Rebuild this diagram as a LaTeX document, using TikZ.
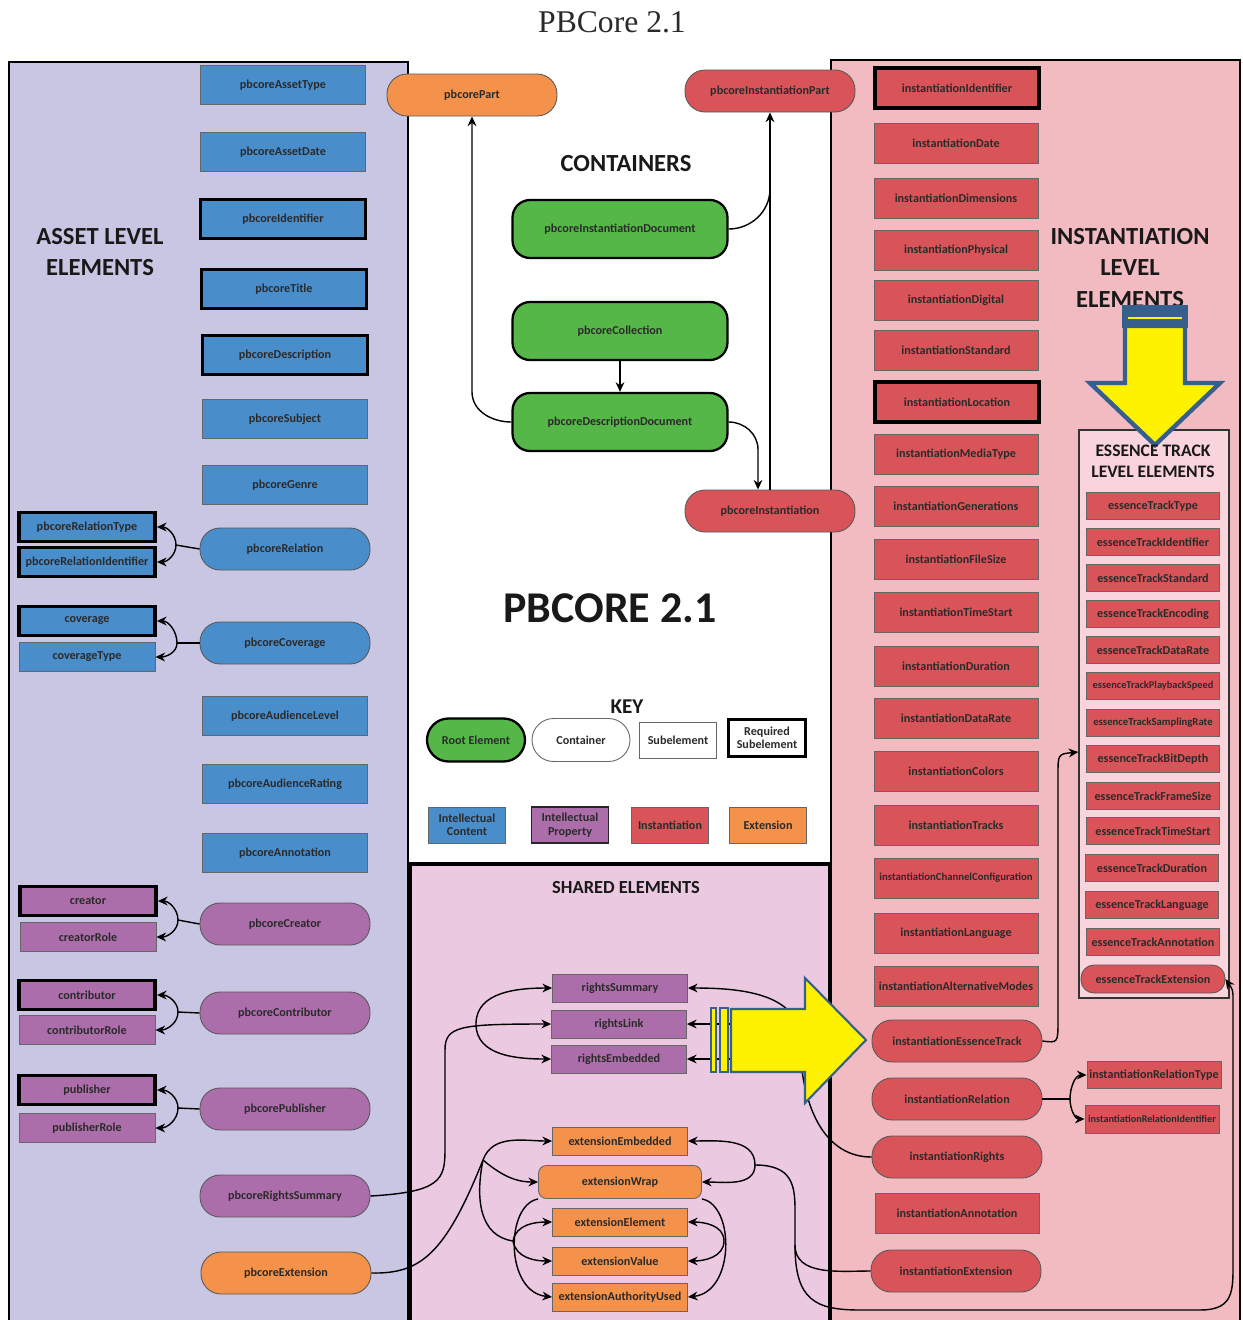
\documentclass[tikz,border=0pt]{standalone}
\usepackage{fontspec}
\setmainfont{Carlito}
\newfontfamily\titlefont{Liberation Serif}
\usetikzlibrary{arrows.meta}
\definecolor{assetbg}{HTML}{C9C6E3}
\definecolor{sharedbg}{HTML}{EAC9E1}
\definecolor{instbg}{HTML}{F2BAC1}
\definecolor{trackbg}{HTML}{F9D4DC}
\definecolor{intellect}{HTML}{4A8DCB}
\definecolor{property}{HTML}{AC6EAA}
\definecolor{instcol}{HTML}{D95459}
\definecolor{extcol}{HTML}{F4924B}
\definecolor{rootcol}{HTML}{55B748}
\definecolor{bandblue}{HTML}{375F8C}
\definecolor{inktext}{HTML}{2A2A2A}

\begin{document}
\begin{tikzpicture}[x=0.02cm,y=-0.02cm]
\tikzset{
every node/.style={font=\fontsize{6.9}{7.8}\selectfont\bfseries,text=inktext},
sub node/.style={rectangle,draw=black!60,line width=0.5pt,inner sep=1pt},
req node/.style={rectangle,draw=black,line width=2.2pt,inner sep=1pt},
pill node/.style={rectangle,rounded corners=0.4cm,draw=black!65,line width=0.5pt,minimum width=3.4cm,minimum height=0.84cm},
doc node/.style={rectangle,rounded corners=0.35cm,draw=black,line width=1.3pt,fill=rootcol,minimum width=4.3cm,minimum height=1.16cm},
asset size/.style={minimum width=3.3cm,minimum height=0.78cm},
side size/.style={minimum width=2.72cm,minimum height=0.58cm},
inst size/.style={minimum width=3.28cm,minimum height=0.8cm},
track size/.style={minimum width=2.66cm,minimum height=0.54cm},
shared size/.style={minimum width=2.7cm,minimum height=0.56cm},
key size/.style={minimum width=1.54cm,minimum height=0.72cm,align=center,font=\fontsize{6.9}{7.7}\selectfont\bfseries},
heading/.style={align=center,text=black!90},
link/.style={-{Stealth[length=5.5pt,width=5pt]},line width=0.8pt},
plain link/.style={line width=0.8pt}
}
\useasboundingbox (0,0) rectangle (1243,1320);

% panels
\fill[assetbg] (9,62) rectangle (408,1320);
\draw[line width=0.9pt] (9,1320) -- (9,62) -- (408,62) -- (408,1320);
\fill[instbg] (831,60) rectangle (1240,1320);
\draw[line width=1.2pt] (831,1320) -- (831,60) -- (1240,60) -- (1240,1320);
\fill[sharedbg] (410,864) rectangle (830,1320);
\draw[line width=1.8pt] (410,1320) -- (410,864) -- (830,864) -- (830,1320);

% headings
\node (doctitle) at (612,22) {\titlefont\mdseries\fontsize{18}{20}\selectfont PBCore 2.1};
\node[heading,font=\fontsize{14}{18}\selectfont\bfseries] (assethead) at (100,252) {ASSET LEVEL\\ELEMENTS};
\node[heading,font=\fontsize{14}{18}\selectfont\bfseries] (insthead) at (1130,268) {INSTANTIATION\\LEVEL\\ELEMENTS};
\node[heading,font=\fontsize{14}{16}\selectfont\bfseries] (conthead) at (626,164) {CONTAINERS};
\node[heading,font=\fontsize{25}{28}\selectfont\bfseries] (bighead) at (610,608) {PBCORE 2.1};
\node[heading,font=\fontsize{12}{14}\selectfont\bfseries] (keyhead) at (627,707) {KEY};
\node[heading,font=\fontsize{10.5}{12}\selectfont\bfseries] (sharedhead) at (626,887) {SHARED ELEMENTS};

% asset level
\node[sub node,asset size,fill=intellect] (assettype) at (283,85) {pbcoreAssetType};
\node[sub node,asset size,fill=intellect] (assetdate) at (283,152) {pbcoreAssetDate};
\node[req node,asset size,fill=intellect] (identifier) at (283,219) {pbcoreIdentifier};
\node[req node,asset size,fill=intellect] (title) at (284,289) {pbcoreTitle};
\node[req node,asset size,fill=intellect] (description) at (285,355) {pbcoreDescription};
\node[sub node,asset size,fill=intellect] (subject) at (285,419) {pbcoreSubject};
\node[sub node,asset size,fill=intellect] (genre) at (285,485) {pbcoreGenre};
\node[pill node,fill=intellect] (relation) at (285,549) {pbcoreRelation};
\node[req node,side size,fill=intellect] (reltype) at (87,527) {pbcoreRelationType};
\node[req node,side size,fill=intellect] (relid) at (87,562) {pbcoreRelationIdentifier};
\node[req node,side size,fill=intellect] (coverage) at (87,621) {coverage};
\node[sub node,side size,fill=intellect] (covtype) at (87,657) {coverageType};
\node[pill node,fill=intellect] (covnode) at (285,643) {pbcoreCoverage};
\node[sub node,asset size,fill=intellect] (audlevel) at (285,716) {pbcoreAudienceLevel};
\node[sub node,asset size,fill=intellect] (audrating) at (285,784) {pbcoreAudienceRating};
\node[sub node,asset size,fill=intellect] (annotation) at (285,853) {pbcoreAnnotation};
\node[req node,side size,fill=property] (creator) at (88,901) {creator};
\node[sub node,side size,fill=property] (crerole) at (88,937) {creatorRole};
\node[pill node,fill=property] (crenode) at (285,924) {pbcoreCreator};
\node[req node,side size,fill=property] (contributor) at (87,995) {contributor};
\node[sub node,side size,fill=property] (conrole) at (87,1030) {contributorRole};
\node[pill node,fill=property] (connode) at (285,1013) {pbcoreContributor};
\node[req node,side size,fill=property] (publisher) at (87,1090) {publisher};
\node[sub node,side size,fill=property] (pubrole) at (87,1128) {publisherRole};
\node[pill node,fill=property] (pubnode) at (285,1109) {pbcorePublisher};
\node[pill node,fill=property] (rightsnode) at (285,1196) {pbcoreRightsSummary};
\node[pill node,fill=extcol] (extnode) at (286,1273) {pbcoreExtension};

% containers
\node[pill node,fill=extcol] (part) at (472,95) {pbcorePart};
\node[pill node,fill=instcol] (instpart) at (770,91) {pbcoreInstantiationPart};
\node[doc node] (instdoc) at (620,229) {pbcoreInstantiationDocument};
\node[doc node] (collection) at (620,331) {pbcoreCollection};
\node[doc node] (descdoc) at (620,422) {pbcoreDescriptionDocument};
\node[pill node,fill=instcol] (instnode) at (770,511) {pbcoreInstantiation};

% key
\node[rectangle,rounded corners=0.43cm,draw=black,line width=1.3pt,fill=rootcol,key size,minimum width=1.96cm,minimum height=0.86cm] (keyroot) at (476,740) {Root Element};
\node[rectangle,rounded corners=0.43cm,draw=black!60,line width=0.5pt,fill=white,key size,minimum width=1.96cm,minimum height=0.86cm] (keycont) at (581,740) {Container};
\node[sub node,key size,fill=white] (keysub) at (678,740) {Subelement};
\node[req node,key size,fill=white,minimum height=0.74cm] (keyreq) at (767,738) {Required\\Subelement};
\node[sub node,key size,fill=intellect] (keyint) at (467,825) {Intellectual\\Content};
\node[rectangle,draw=black!85,line width=1pt,key size,fill=property] (keyprop) at (570,825) {Intellectual\\Property};
\node[sub node,key size,fill=instcol] (keyinst) at (670,825) {Instantiation};
\node[sub node,key size,fill=extcol] (keyext) at (768,825) {Extension};

% shared
\node[sub node,shared size,fill=property] (rsumm) at (620,988) {rightsSummary};
\node[sub node,shared size,fill=property] (rlink) at (619,1024) {rightsLink};
\node[sub node,shared size,fill=property] (remb) at (619,1059) {rightsEmbedded};
\node[sub node,shared size,fill=extcol] (eemb) at (620,1141) {extensionEmbedded};
\node[rectangle,rounded corners=0.16cm,draw=black!60,line width=0.5pt,fill=extcol,minimum width=3.26cm,minimum height=0.66cm] (ewrap) at (620,1182) {extensionWrap};
\node[sub node,shared size,fill=extcol] (eel) at (620,1222) {extensionElement};
\node[sub node,shared size,fill=extcol] (eval) at (620,1261) {extensionValue};
\node[sub node,shared size,fill=extcol] (eau) at (620,1297) {extensionAuthorityUsed};

% instantiation level
\node[req node,inst size,fill=instcol] (iident) at (957,88) {instantiationIdentifier};
\node[sub node,inst size,fill=instcol] (idate) at (956,143) {instantiationDate};
\node[sub node,inst size,fill=instcol] (idim) at (956,198) {instantiationDimensions};
\node[sub node,inst size,fill=instcol] (iphys) at (956,250) {instantiationPhysical};
\node[sub node,inst size,fill=instcol] (idig) at (956,300) {instantiationDigital};
\node[sub node,inst size,fill=instcol] (istd) at (956,350) {instantiationStandard};
\node[req node,inst size,fill=instcol] (iloc) at (957,402) {instantiationLocation};
\node[sub node,inst size,fill=instcol] (imedia) at (956,454) {instantiationMediaType};
\node[sub node,inst size,fill=instcol] (igen) at (956,506) {instantiationGenerations};
\node[sub node,inst size,fill=instcol] (isize) at (956,559) {instantiationFileSize};
\node[sub node,inst size,fill=instcol] (istart) at (956,612) {instantiationTimeStart};
\node[sub node,inst size,fill=instcol] (idur) at (956,666) {instantiationDuration};
\node[sub node,inst size,fill=instcol] (irate) at (956,718) {instantiationDataRate};
\node[sub node,inst size,fill=instcol] (icol) at (956,771) {instantiationColors};
\node[sub node,inst size,fill=instcol] (itracks) at (956,825) {instantiationTracks};
\node[sub node,inst size,fill=instcol,font=\fontsize{6.1}{6.5}\selectfont\bfseries] (ichan) at (956,878) {instantiationChannelConfiguration};
\node[sub node,inst size,fill=instcol] (ilang) at (956,933) {instantiationLanguage};
\node[sub node,inst size,fill=instcol] (ialt) at (956,986) {instantiationAlternativeModes};
\node[pill node,fill=instcol] (iess) at (957,1041) {instantiationEssenceTrack};
\node[pill node,fill=instcol] (irel) at (957,1099) {instantiationRelation};
\node[pill node,fill=instcol] (irights) at (957,1157) {instantiationRights};
\node[sub node,inst size,fill=instcol] (iann) at (957,1213) {instantiationAnnotation};
\node[pill node,fill=instcol] (iext) at (956,1271) {instantiationExtension};
\node[sub node,minimum width=2.68cm,minimum height=0.54cm,fill=instcol] (ireltype) at (1154,1075) {instantiationRelationType};
\node[sub node,minimum width=2.68cm,minimum height=0.56cm,fill=instcol,font=\fontsize{5.8}{6.2}\selectfont\bfseries] (irelid) at (1152,1119) {instantiationRelationIdentifier};

% essence track level
\node[draw=black!80,line width=0.8pt,fill=trackbg,minimum width=3cm,minimum height=11.36cm] (trackbox) at (1154,714) {};
\node[sub node,track size,fill=instcol] (ttype) at (1153,506) {essenceTrackType};
\node[sub node,track size,fill=instcol] (tident) at (1153,542) {essenceTrackIdentifier};
\node[sub node,track size,fill=instcol] (tstd) at (1153,578) {essenceTrackStandard};
\node[sub node,track size,fill=instcol] (tenc) at (1153,614) {essenceTrackEncoding};
\node[sub node,track size,fill=instcol] (trate) at (1153,650) {essenceTrackDataRate};
\node[sub node,track size,fill=instcol,font=\fontsize{5.9}{6.3}\selectfont\bfseries] (tspeed) at (1153,686) {essenceTrackPlaybackSpeed};
\node[sub node,track size,fill=instcol,font=\fontsize{6.1}{6.5}\selectfont\bfseries] (tsamp) at (1153,723) {essenceTrackSamplingRate};
\node[sub node,track size,fill=instcol] (tbit) at (1153,759) {essenceTrackBitDepth};
\node[sub node,track size,fill=instcol] (tframe) at (1153,796) {essenceTrackFrameSize};
\node[sub node,track size,fill=instcol] (tstart) at (1153,831) {essenceTrackTimeStart};
\node[sub node,track size,fill=instcol] (tdur) at (1152,868) {essenceTrackDuration};
\node[sub node,track size,fill=instcol] (tlang) at (1152,905) {essenceTrackLanguage};
\node[sub node,track size,fill=instcol] (tann) at (1153,942) {essenceTrackAnnotation};
\node[rectangle,rounded corners=0.26cm,draw=black!65,line width=0.5pt,fill=instcol,minimum width=2.88cm,minimum height=0.56cm] (text) at (1153,979) {essenceTrackExtension};

% forks on the asset side
\coordinate (relfork) at (176,545);
\coordinate (covfork) at (177,643);
\coordinate (crefork) at (178,920);
\coordinate (confork) at (178,1012);
\coordinate (pubfork) at (178,1108);
\draw[plain link] (relation.west) -- (relfork);
\draw[link] (relfork) to[out=90,in=0] (reltype.east);
\draw[link] (relfork) to[out=-90,in=0] (relid.east);
\draw[plain link] (covnode.west) -- (covfork);
\draw[link] (covfork) to[out=90,in=0] (coverage.east);
\draw[link] (covfork) to[out=-90,in=0] (covtype.east);
\draw[plain link] (crenode.west) -- (crefork);
\draw[link] (crefork) to[out=90,in=0] (creator.east);
\draw[link] (crefork) to[out=-90,in=0] (crerole.east);
\draw[plain link] (connode.west) -- (confork);
\draw[link] (confork) to[out=90,in=0] (contributor.east);
\draw[link] (confork) to[out=-90,in=0] (conrole.east);
\draw[plain link] (pubnode.west) -- (pubfork);
\draw[link] (pubfork) to[out=90,in=0] (publisher.east);
\draw[link] (pubfork) to[out=-90,in=0] (pubrole.east);

% containers
\draw[link] (collection.south) -- (descdoc.north);
\draw[link] (descdoc.west) to[out=180,in=-90] (part.south |- descdoc.north) -- (part.south);
\draw[link] (instnode.north) -- (instpart.south);
\draw[plain link] (instdoc.east) to[out=0,in=-90] ([yshift=0.2cm]instpart.south |- instdoc.north);
\draw[link] (descdoc.east) to[out=0,in=90] ([xshift=-0.24cm,yshift=0.8cm]instnode.north) -- ([xshift=-0.24cm]instnode.north);

% rights
\coordinate (rhubL) at (476,1024);
\coordinate (rhubR) at (800,1040);
\draw[link] (rightsnode.east) .. controls (440,1192) and (445,1180) .. (445,1150) -- (445,1050) .. controls (445,1026) and (460,1024) .. (rlink.west);
\draw[link] (rhubL) to[out=90,in=180] (rsumm.west);
\draw[link] (rhubL) to[out=-90,in=180] (remb.west);
\draw[plain link] (irights.west) to[out=180,in=-90] (rhubR);
\draw[link] (rhubR) to[out=90,in=0] (rsumm.east);
\draw[link] (rlink.east -| rhubR) -- (rlink.east);
\draw[link] (remb.east -| rhubR) -- (remb.east);

% extension
\coordinate (ehubL) at (483,1160);
\coordinate (ehubM) at (513,1241);
\coordinate (ehubR) at (755,1165);
\coordinate (ehubS) at (795,1245);
\coordinate (ehubT) at (724,1241);
\draw[plain link] (extnode.east) .. controls (420,1274) and (445,1255) .. (ehubL);
\draw[link] (ehubL) to[out=70,in=180] (eemb.west);
\draw[link] (ehubL) to[out=-40,in=180] (ewrap.west);
\draw[plain link] (ehubL) .. controls (475,1200) and (480,1236) .. (ehubM);
\draw[link] (ehubM) to[out=80,in=180] (eel.west);
\draw[link] (ehubM) to[out=-80,in=180] (eval.west);
\draw[link] (ewrap.south west) .. controls (505,1205) and (505,1292) .. (eau.west);
\draw[link] (ehubR) to[out=90,in=0] (eemb.east);
\draw[link] (ehubR) to[out=-90,in=0] (ewrap.east);
\draw[plain link] (ehubR) .. controls (792,1165) and (795,1185) .. (795,1210) -- (ehubS);
\draw[link] (ehubT) to[out=90,in=0] (eel.east);
\draw[link] (ehubT) to[out=-90,in=0] (eval.east);
\draw[link] (ewrap.south east) .. controls (735,1205) and (735,1292) .. (eau.east);
\draw[plain link] (ehubS) to[out=-90,in=180] (iext.west);
\draw[link] (ehubS) .. controls (795,1300) and (815,1310) .. (860,1310) -- (1200,1310) .. controls (1230,1310) and (1233,1295) .. (1233,1270) -- (1233,1000) .. controls (1233,990) .. (text.east);

% instantiation side
\coordinate (relhub) at (1070,1099);
\draw[link] (iess.east) .. controls (1058,1043) .. (1058,1020) -- (1058,775) .. controls (1058,754) .. ([yshift=-0.76cm]trackbox.west);
\draw[plain link] (irel.east) -- (relhub);
\draw[link] (relhub) to[out=90,in=180] (ireltype.west);
\draw[link] (relhub) to[out=-90,in=180] (irelid.west);

% yellow arrows
\filldraw[fill=yellow,draw=bandblue,line width=1.2pt] (711,1008) rectangle (716,1072);
\filldraw[fill=yellow,draw=bandblue,line width=1.2pt] (720,1008) rectangle (728,1072);
\filldraw[fill=yellow,draw=bandblue,line width=1.2pt] (731,1009) -- (805,1009) -- (805,978) -- (866,1040) -- (805,1103) -- (805,1072) -- (731,1072) -- cycle;
\fill[bandblue] (1122,305) rectangle (1188,328);
\draw[yellow,line width=0.8pt] (1128,318) -- (1182,318);
\filldraw[fill=yellow,draw=bandblue,line width=2.5pt] (1125,326) -- (1185,326) -- (1185,383) -- (1220,383) -- (1155,445) -- (1090,383) -- (1125,383) -- cycle;

\node[heading,font=\fontsize{10}{12}\selectfont\bfseries] (trackhead) at (1153,461) {ESSENCE TRACK\\LEVEL ELEMENTS};
\end{tikzpicture}
\end{document}
